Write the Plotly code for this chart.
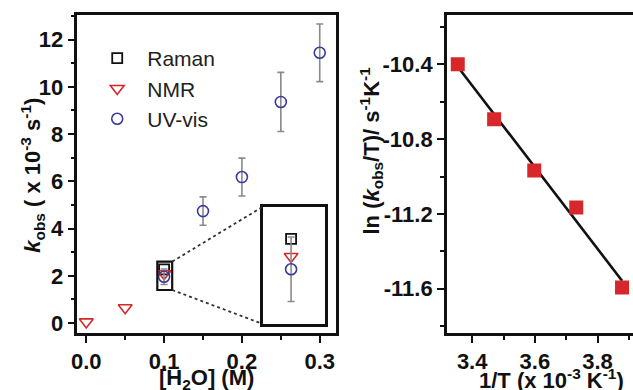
import numpy as np
import plotly.graph_objects as go

# ---------------- data ----------------
# Left panel: k_obs (x 10^-3 s^-1) vs [H2O] (M)
raman_x = [0.10]
raman_y = [2.27]
nmr_x = [0.00, 0.05, 0.10]
nmr_y = [0.05, 0.65, 2.09]
uv_x = [0.10, 0.15, 0.20, 0.25, 0.30]
uv_y = [1.96, 4.74, 6.18, 9.36, 11.44]
uv_err = [0.33, 0.60, 0.80, 1.25, 1.22]

# Right panel: ln(k_obs/T) vs 1/T (x 10^-3 K^-1)
invT = [3.354, 3.470, 3.598, 3.732, 3.878]
lnkT = [-10.40, -10.694, -10.968, -11.166, -11.593]

left_xticks = [0.0, 0.1, 0.2, 0.3]
left_yticks = [0, 2, 4, 6, 8, 10, 12]
right_xticks = [3.4, 3.6, 3.8]
right_yticks = [-10.4, -10.8, -11.2, -11.6]

# ---------------- layout geometry ----------------
W, H = 633, 390
MT, MB = 15, 57
PH = H - MT - MB

L_X0, L_X1 = 72, 333          # left plot area (px)
R_X0 = 445                    # right plot area start (px)
LX_RANGE = [-0.0115, 0.3207]
LY_RANGE = [-0.42, 13.04]
RX_RANGE = [3.319, 3.913]
RY_RANGE = [-11.837, -10.136]

# zoom region (main data coords) and inset box (main data coords)
ZOOM = dict(x0=0.0913, x1=0.1104, y0=1.40, y1=2.60)
INSET = dict(x0=0.227, x1=0.3064, y0=-0.04, y1=4.93)


def xpx(v):
    return L_X0 + (v - LX_RANGE[0]) / (LX_RANGE[1] - LX_RANGE[0]) * (L_X1 - L_X0)


def yfrac(v):
    return (v - LY_RANGE[0]) / (LY_RANGE[1] - LY_RANGE[0])


FONT = "Liberation Sans, Arial, sans-serif"
BLACK = "#111111"
RED = "#d8272a"
BLUE = "#3a3a9c"
GREY = "#8a8a8a"

fig = go.Figure()

# ---- left panel traces ----
def add_left(xa, ya, show):
    fig.add_trace(go.Scatter(
        x=raman_x, y=raman_y, mode="markers", name="Raman", showlegend=show,
        xaxis=xa, yaxis=ya,
        marker=dict(symbol="square-open", size=10, color=BLACK, line=dict(width=1.8)),
    ))
    fig.add_trace(go.Scatter(
        x=nmr_x, y=nmr_y, mode="markers", name="NMR", showlegend=show,
        xaxis=xa, yaxis=ya,
        marker=dict(symbol="triangle-down-open", size=12, color=RED, line=dict(width=1.6)),
    ))
    fig.add_trace(go.Scatter(
        x=uv_x, y=uv_y, mode="markers", name="UV-vis", showlegend=show,
        xaxis=xa, yaxis=ya,
        error_y=dict(type="data", array=uv_err, visible=True, color=GREY,
                     thickness=1.6, width=3.5),
        marker=dict(symbol="circle-open", size=11, color=BLUE, line=dict(width=1.6)),
    ))

add_left("x", "y", True)
add_left("x3", "y3", False)

# ---- right panel traces ----
slope, icpt = np.polyfit(invT, lnkT, 1)
fit_x = [min(invT), max(invT)]
fit_y = [slope * v + icpt for v in fit_x]
fig.add_trace(go.Scatter(
    x=fit_x, y=fit_y, mode="lines", showlegend=False, xaxis="x2", yaxis="y2",
    line=dict(color=BLACK, width=2.6),
))
fig.add_trace(go.Scatter(
    x=invT, y=lnkT, mode="markers", showlegend=False, xaxis="x2", yaxis="y2",
    marker=dict(symbol="square", size=14, color=RED, line=dict(width=0)),
))

tickfont = dict(family=FONT, size=22, color=BLACK, weight="bold")
axline = dict(showline=True, linecolor=BLACK, linewidth=2.5, ticks="outside",
              tickwidth=2, tickcolor=BLACK, showgrid=False, zeroline=False,
              tickfont=tickfont)

fig.update_layout(
    width=W, height=H,
    margin=dict(l=0, r=0, t=MT, b=MB),
    paper_bgcolor="white", plot_bgcolor="white",
    xaxis=dict(domain=[L_X0 / W, L_X1 / W], range=LX_RANGE, mirror=True,
               tickvals=left_xticks, ticktext=[f"{v:.1f}" for v in left_xticks],
               ticklen=7, minor=dict(dtick=0.05, tick0=0, ticks="outside", ticklen=4,
                                     tickwidth=2, tickcolor=BLACK),
               anchor="y", **axline),
    yaxis=dict(domain=[0, 1], range=LY_RANGE, mirror=True,
               tickvals=left_yticks, ticktext=[str(v) for v in left_yticks],
               ticklen=7, minor=dict(dtick=1, tick0=0, ticks="outside", ticklen=4,
                                     tickwidth=2, tickcolor=BLACK),
               anchor="x", **axline),
    xaxis2=dict(domain=[R_X0 / W, 1.0], range=RX_RANGE, mirror=True,
                tickvals=right_xticks, ticktext=[f"{v:.1f}" for v in right_xticks],
                ticklen=7, minor=dict(dtick=0.1, tick0=3.4, ticks="outside", ticklen=4,
                                      tickwidth=2, tickcolor=BLACK),
                anchor="y2", **axline),
    yaxis2=dict(domain=[0, 1], range=RY_RANGE, mirror=False,
                tickvals=right_yticks, ticktext=[f"{v:.1f}" for v in right_yticks],
                ticklen=7, minor=dict(dtick=0.2, tick0=-10.4, ticks="outside", ticklen=4,
                                      tickwidth=2, tickcolor=BLACK),
                anchor="x2", **axline),
    xaxis3=dict(domain=[xpx(INSET["x0"]) / W, xpx(INSET["x1"]) / W],
                range=[ZOOM["x0"], ZOOM["x1"]], anchor="y3",
                showline=True, mirror=True, linecolor=BLACK, linewidth=2.5,
                showticklabels=False, ticks="", showgrid=False, zeroline=False),
    yaxis3=dict(domain=[yfrac(INSET["y0"]), yfrac(INSET["y1"])],
                range=[ZOOM["y0"], ZOOM["y1"]], anchor="x3",
                showline=True, mirror=True, linecolor=BLACK, linewidth=2.5,
                showticklabels=False, ticks="", showgrid=False, zeroline=False),
    legend=dict(x=82 / W, y=1 - (38 - MT) / PH, xanchor="left", yanchor="top",
                bgcolor="rgba(0,0,0,0)", font=dict(family=FONT, size=21, color="#222"),
                itemwidth=50, tracegroupgap=0),
    showlegend=True,
)

# zoom rectangle and connector lines (left panel, main data coords)
fig.add_shape(type="rect", xref="x", yref="y", x0=ZOOM["x0"], x1=ZOOM["x1"],
              y0=ZOOM["y0"], y1=ZOOM["y1"], line=dict(color=BLACK, width=2.2))
fig.add_shape(type="line", xref="x", yref="y", x0=ZOOM["x1"], y0=ZOOM["y1"],
              x1=INSET["x0"], y1=INSET["y1"], line=dict(color="#333", width=1.8, dash="dot"))
fig.add_shape(type="line", xref="x", yref="y", x0=ZOOM["x1"], y0=ZOOM["y0"],
              x1=INSET["x0"], y1=INSET["y0"], line=dict(color="#333", width=1.8, dash="dot"))

titlefont = dict(family=FONT, size=22, color=BLACK, weight="bold")
fig.add_annotation(text="<i>k</i><sub>obs</sub> ( x 10<sup>-3</sup> s<sup>-1</sup>)",
                   xref="paper", yref="paper", x=26 / W, y=1 - (175 - MT) / PH,
                   textangle=-90, showarrow=False, font=titlefont,
                   xanchor="center", yanchor="middle")
fig.add_annotation(text="[H<sub>2</sub>O] (M)",
                   xref="paper", yref="paper", x=202 / W, y=1 - (379 - MT) / PH,
                   showarrow=False, font=titlefont, xanchor="center", yanchor="middle")
fig.add_annotation(text="ln (<i>k</i><sub>obs</sub>/T)/ s<sup>-1</sup>K<sup>-1</sup>",
                   xref="paper", yref="paper", x=368 / W, y=1 - (151 - MT) / PH,
                   textangle=-90, showarrow=False, font=titlefont,
                   xanchor="center", yanchor="middle")
fig.add_annotation(text="1/T (x 10<sup>-3</sup> K<sup>-1</sup>)",
                   xref="paper", yref="paper", x=551 / W, y=1 - (379 - MT) / PH,
                   showarrow=False, font=titlefont, xanchor="center", yanchor="middle")

fig.write_html("out.html", post_script="document.body.style.margin='0';",
               config={"displayModeBar": False})
